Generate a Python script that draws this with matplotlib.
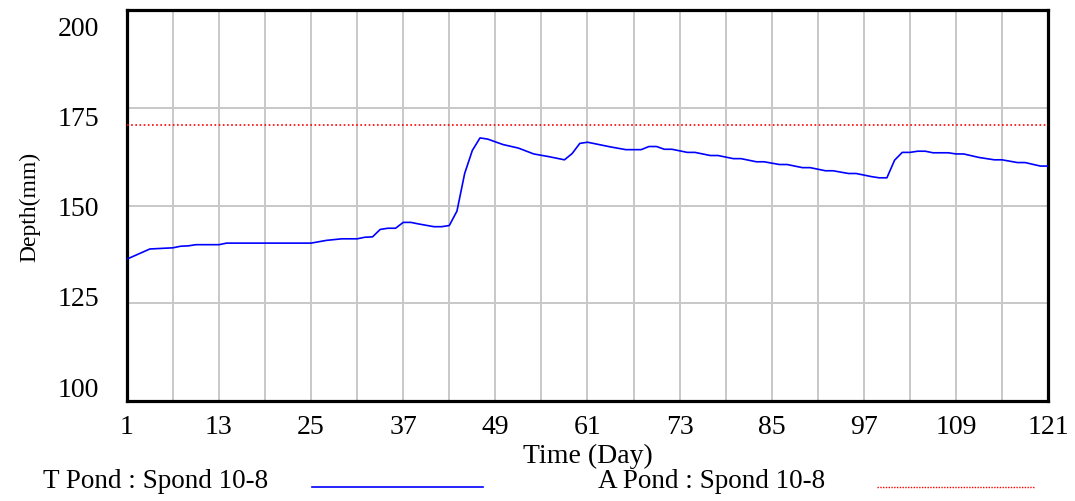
import matplotlib
matplotlib.use("Agg")
import matplotlib.pyplot as plt
from matplotlib.lines import Line2D
from matplotlib.transforms import ScaledTranslation

# T Pond : Spond 10-8 (breakpoints)
days = [1, 4, 7, 8, 9, 10, 13, 14, 25, 27, 29, 31, 32, 33, 34, 35, 36, 37, 38, 39,
        41, 42, 43, 44, 45, 46, 47, 48, 50, 52, 54, 56, 58, 59, 60, 61, 64, 66, 68, 69,
        70, 71, 72, 74, 75, 77, 78, 80, 81, 83, 84, 86, 87, 89, 90, 92, 93, 95, 96, 98,
        99, 100, 101, 102, 103, 104, 105, 106, 108, 109, 110, 112, 114, 115, 117, 118, 120, 121]
t_pond = [136.3, 138.9, 139.2, 139.6, 139.7, 140.0, 140.0, 140.4, 140.4, 141.1, 141.5, 141.5,
          141.9, 142.0, 143.9, 144.2, 144.2, 145.7, 145.7, 145.3, 144.6, 144.6, 144.9, 148.6,
          158.2, 164.1, 167.3, 167.0, 165.6, 164.7, 163.2, 162.5, 161.7, 163.3, 165.9, 166.2,
          165.0, 164.3, 164.3, 165.1, 165.1, 164.4, 164.4, 163.6, 163.6, 162.8, 162.8, 162.0,
          162.0, 161.2, 161.2, 160.5, 160.5, 159.7, 159.7, 158.9, 158.9, 158.2, 158.2, 157.4,
          157.1, 157.1, 161.6, 163.6, 163.6, 163.9, 163.9, 163.5, 163.5, 163.2, 163.2, 162.3,
          161.7, 161.7, 161.0, 161.0, 160.1, 160.1]

# A Pond : Spond 10-8 (constant)
a_days = [1, 121]
a_pond = [170.5, 170.5]

x_ticks = list(range(1, 122, 12))
x_grid = list(range(7, 122, 12))
y_ticks = [100, 125, 150, 175, 200]

FONT = "Liberation Serif"
plt.rcParams["font.family"] = FONT

fig = plt.figure(figsize=(10.75, 5.02), dpi=100)
ax = fig.add_axes([0.118, 0.199, 0.857, 0.779])

ax.plot(days, t_pond, color="#0000ff", lw=1.2, zorder=3)
ax.plot(a_days, a_pond, color="#ff0000", lw=1.2, linestyle=(0, (1, 1.5)), zorder=3)

ax.set_xlim(1, 121)
ax.set_ylim(100, 200)
ax.set_xticks(x_ticks)
ax.set_xticks(x_grid, minor=True)
ax.set_yticks(y_ticks)
ax.grid(True, which="both", color="#c8c8c8", lw=1.4)
ax.set_axisbelow(True)
ax.tick_params(which="both", length=0)
ax.tick_params(axis="x", labelsize=20, pad=9)
ax.tick_params(axis="y", labelsize=20, pad=20)

for s in ax.spines.values():
    s.set_linewidth(2.3)
    s.set_color("black")

# Vensim-style label placement: y labels squeezed toward the middle
fig.canvas.draw()
for lab, v in zip(ax.get_yticklabels(), y_ticks):
    dy = -(v - 150) * 0.3 / 100.0
    lab.set_transform(lab.get_transform() + ScaledTranslation(0, dy, fig.dpi_scale_trans))

ax.set_xlabel("Time (Day)", fontsize=20, labelpad=3)
ax.set_ylabel("Depth(mm)", fontsize=17, labelpad=12)

# legend row under the chart
fig.text(43 / 1075, 1 - 488 / 502, "T Pond : Spond 10-8", fontsize=19.5, va="baseline")
fig.add_artist(Line2D([312 / 1075, 483 / 1075], [1 - 488 / 502] * 2, color="#0000ff", lw=1.2))
fig.text(598 / 1075, 1 - 488 / 502, "A Pond : Spond 10-8", fontsize=19.5, va="baseline")
fig.add_artist(Line2D([877 / 1075, 1035 / 1075], [1 - 488 / 502] * 2, color="#ff0000",
                      lw=1.0, linestyle=(0, (1, 1))))

fig.savefig("out.png", dpi=100)
